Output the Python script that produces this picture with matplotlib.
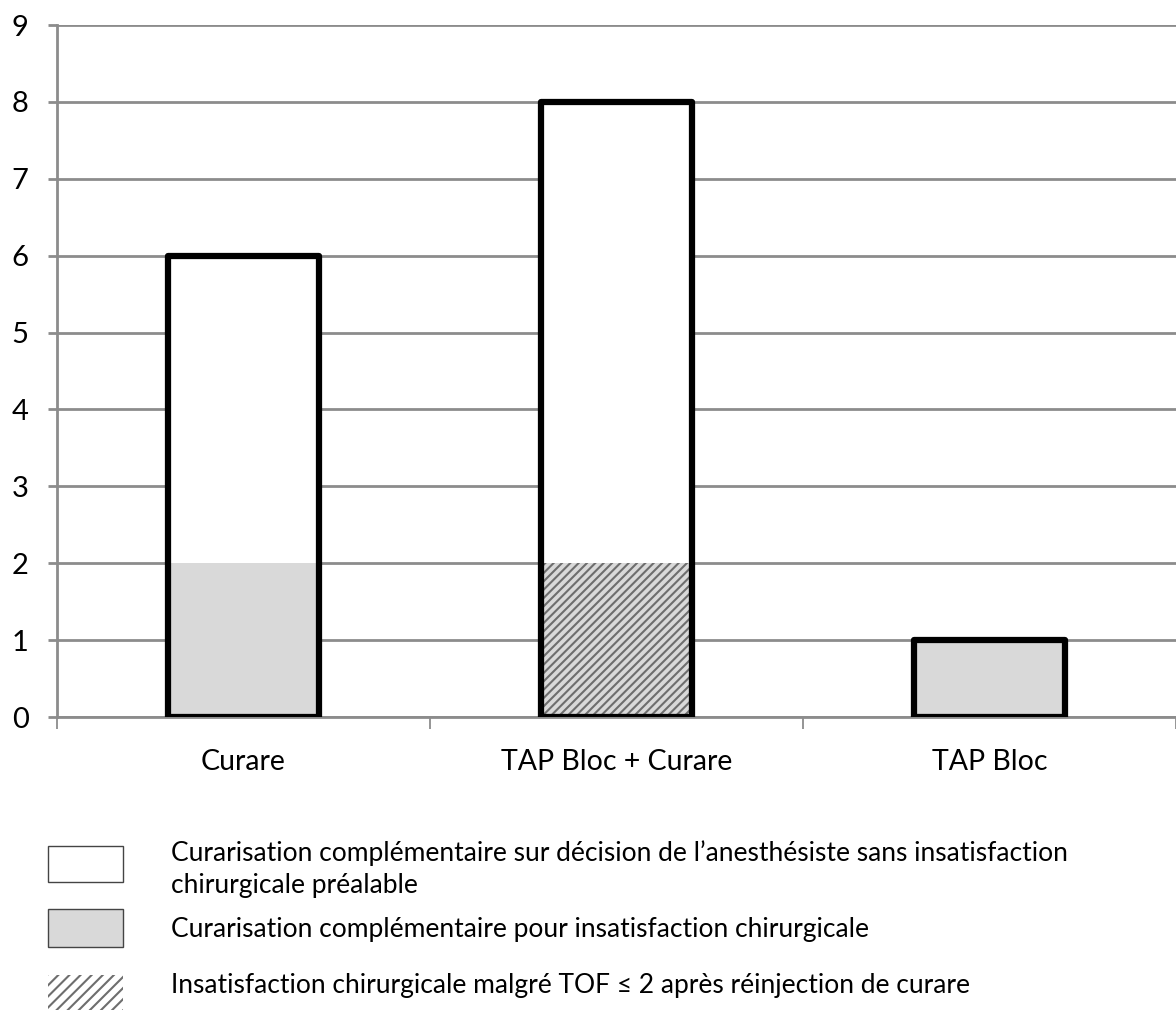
import numpy as np
import matplotlib.pyplot as plt
from matplotlib.patches import Rectangle

plt.rcParams['font.family'] = ['Lato', 'DejaVu Sans']
plt.rcParams['hatch.color'] = '#6e6e6e'
plt.rcParams['hatch.linewidth'] = 1.5

categories = ['Curare', 'TAP Bloc + Curare', 'TAP Bloc']
# stacked series, bottom to top
gris = [2, 0, 1]        # curarisation pour insatisfaction chirurgicale
hachure = [0, 2, 0]     # insatisfaction malgré TOF <= 2
blanc = [4, 6, 0]       # décision de l'anesthésiste
legend_labels = [
    "Curarisation complémentaire sur décision de l\u2019anesthésiste sans insatisfaction\nchirurgicale préalable",
    "Curarisation complémentaire pour insatisfaction chirurgicale",
    "Insatisfaction chirurgicale malgré TOF \u2264 2 après réinjection de curare",
]

fig = plt.figure(figsize=(11.76, 10.10), dpi=100)
ax = fig.add_axes([57 / 1176, 1 - 717 / 1010, 1 - 57 / 1176, (717 - 25) / 1010])

x = np.arange(len(categories))
w = 0.405
gris = np.array(gris)
hachure = np.array(hachure)
blanc = np.array(blanc)

ax.bar(x, gris, w, color='#d9d9d9', linewidth=0, zorder=2)
ax.bar(x, hachure, w, bottom=gris, color='#d9d9d9', edgecolor='#6e6e6e',
       hatch='////', linewidth=0, zorder=2)
ax.bar(x, blanc, w, bottom=gris + hachure, color='white', linewidth=0, zorder=2)
total = gris + hachure + blanc
ax.bar(x, total, w, fill=False, edgecolor='black', linewidth=4.5, zorder=3, joinstyle='round')

ax.set_xlim(-0.5, 2.5)
ax.set_ylim(0, 9)
ax.set_yticks(range(0, 10))
ax.yaxis.grid(True, color='#8c8c8c', linewidth=2)
ax.set_axisbelow(True)
for s in ['top', 'right']:
    ax.spines[s].set_visible(False)
ax.spines['left'].set_color('#8c8c8c')
ax.spines['left'].set_linewidth(2)
ax.spines['bottom'].set_color('#8c8c8c')
ax.spines['bottom'].set_linewidth(2)

ax.set_xticks([-0.5, 0.5, 1.5, 2.5])
ax.set_xticklabels([])
ax.set_xticks(x, minor=True)
ax.set_xticklabels(categories, minor=True, fontsize=20.5)
ax.tick_params(axis='x', which='major', length=8.5, width=1.3, color='#8c8c8c', direction='out')
ax.tick_params(axis='x', which='minor', length=0, pad=23)
ax.tick_params(axis='y', length=6.5, width=2, color='#8c8c8c', labelsize=21, pad=14)

# legend drawn below
W, H = 1176, 1010
boxes = [(846, 882), (909, 947), (975, 1012)]
styles = [dict(facecolor='white', edgecolor='#444444', linewidth=1.0),
          dict(facecolor='#d9d9d9', edgecolor='#444444', linewidth=1.0),
          dict(facecolor='white', edgecolor='#6e6e6e', hatch='///', linewidth=0)]
text_y = [869, 929, 986]
for (y0, y1), st, lab, ty in zip(boxes, styles, legend_labels, text_y):
    fig.patches.append(Rectangle((48 / W, 1 - y1 / H), 75 / W, (y1 - y0) / H,
                                 transform=fig.transFigure, **st))
    fig.text(171 / W, 1 - ty / H, lab, fontsize=19, va='center', ha='left',
             linespacing=1.35)

fig.savefig('out.png', dpi=100)
